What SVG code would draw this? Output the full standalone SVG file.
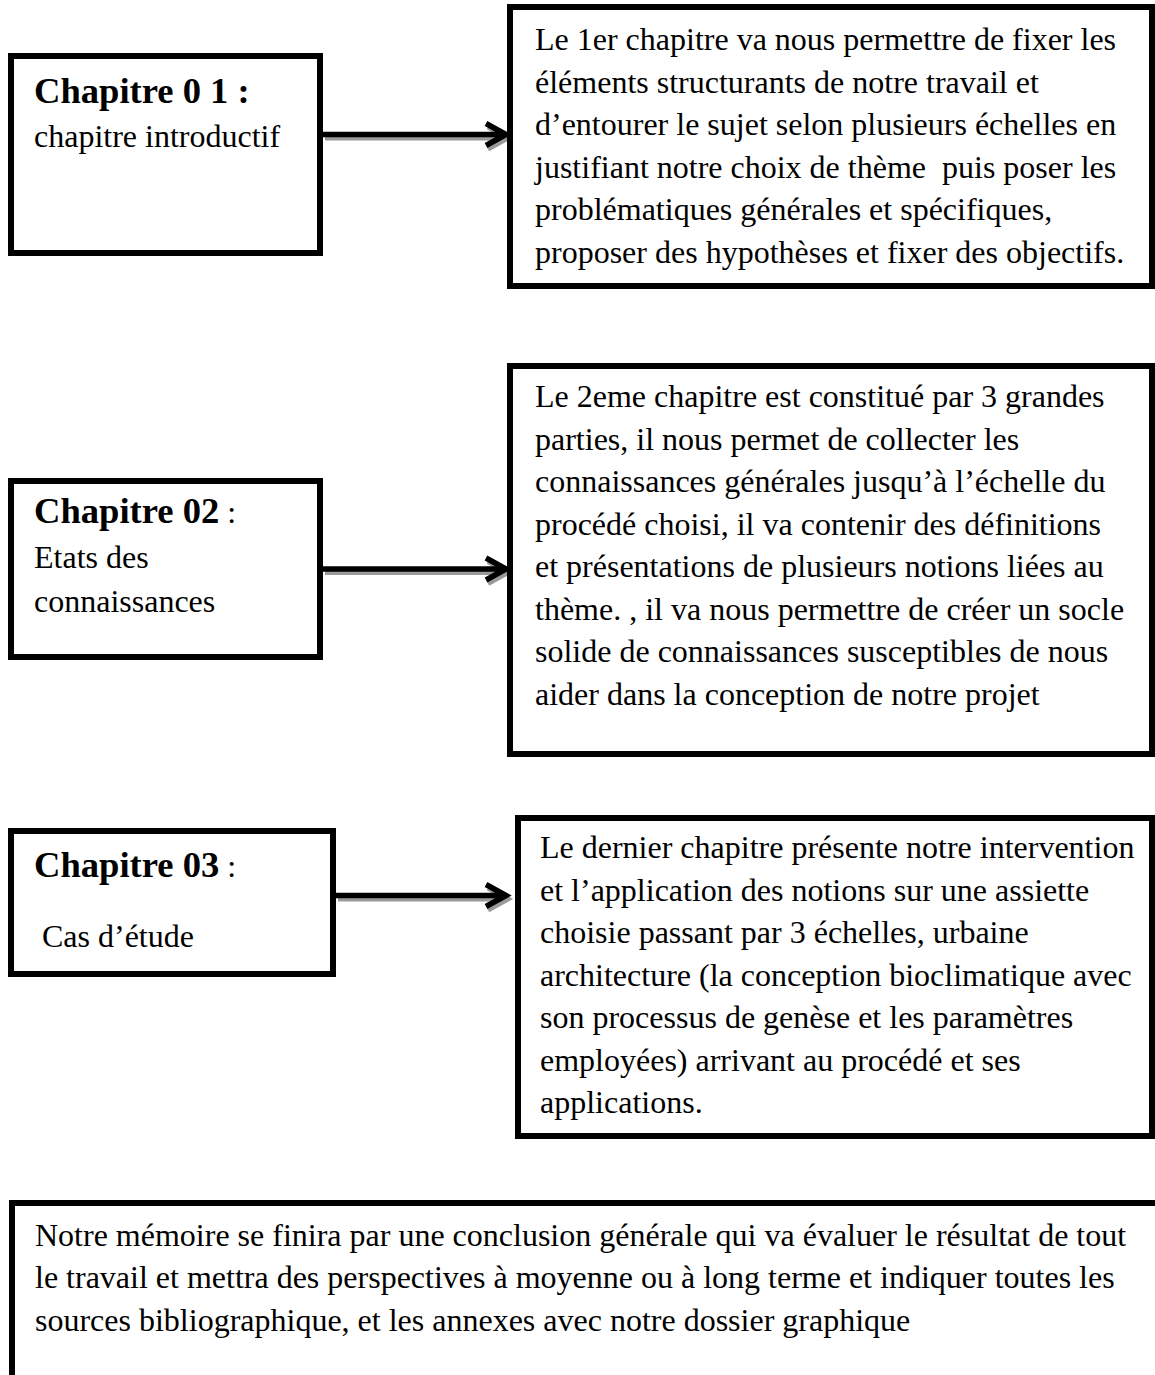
<svg xmlns="http://www.w3.org/2000/svg" width="1155" height="1375" viewBox="0 0 1155 1375">
<style>
.box{fill:#fff;stroke:#000;stroke-width:6}
.t{font-family:"Liberation Serif","Times New Roman",serif;font-size:32px;fill:#000}
.h{font-family:"Liberation Serif","Times New Roman",serif;font-size:36.6px;font-weight:bold;fill:#000}
.ar{fill:none;stroke:#000;stroke-width:5.5;stroke-linejoin:miter}
.sh{fill:none;stroke:#9a9a9a;stroke-width:5;stroke-linejoin:miter}
</style>
<rect width="1155" height="1375" fill="#fff"/>
<g id="connectors">
  <g transform="translate(2,3.5)">
    <path class="sh" d="M323,134.5 H505 M486,123.5 L506,134.5 L486,145.5"/>
    <path class="sh" d="M323,569 H505 M486,558 L506,569 L486,580"/>
    <path class="sh" d="M336,895.5 H505 M486,884.5 L506,895.5 L486,906.5"/>
  </g>
  <path class="ar" d="M323,134.5 H505 M486,123.5 L506,134.5 L486,145.5"/>
  <path class="ar" d="M323,569 H505 M486,558 L506,569 L486,580"/>
  <path class="ar" d="M336,895.5 H505 M486,884.5 L506,895.5 L486,906.5"/>
</g>
<g id="chap1">
  <rect class="box" x="11" y="56" width="309" height="197"/>
  <text class="h" x="34" y="103">Chapitre 0 1 :</text>
  <text class="t" x="34" y="147">chapitre introductif</text>
</g>
<g id="desc1">
  <rect class="box" x="510" y="7" width="642" height="279"/>
  <text class="t" x="535" y="50">Le 1er chapitre va nous permettre de fixer les</text>
  <text class="t" x="535" y="92.5">éléments structurants de notre travail et</text>
  <text class="t" x="535" y="135">d’entourer le sujet selon plusieurs échelles en</text>
  <text class="t" x="535" y="177.5" xml:space="preserve">justifiant notre choix de thème  puis poser les</text>
  <text class="t" x="535" y="220">problématiques générales et spécifiques,</text>
  <text class="t" x="535" y="262.5">proposer des hypothèses et fixer des objectifs.</text>
</g>
<g id="chap2">
  <rect class="box" x="11" y="481" width="309" height="176"/>
  <text x="34" y="523"><tspan class="h">Chapitre 02</tspan><tspan class="t"> :</tspan></text>
  <text class="t" x="34" y="568">Etats des</text>
  <text class="t" x="34" y="612">connaissances</text>
</g>
<g id="desc2">
  <rect class="box" x="510" y="366" width="642" height="388"/>
  <text class="t" x="535" y="407">Le 2eme chapitre est constitué par 3 grandes</text>
  <text class="t" x="535" y="449.5">parties, il nous permet de collecter les</text>
  <text class="t" x="535" y="492">connaissances générales jusqu’à l’échelle du</text>
  <text class="t" x="535" y="534.5">procédé choisi, il va contenir des définitions</text>
  <text class="t" x="535" y="577">et présentations de plusieurs notions liées au</text>
  <text class="t" x="535" y="619.5">thème. , il va nous permettre de créer un socle</text>
  <text class="t" x="535" y="662">solide de connaissances susceptibles de nous</text>
  <text class="t" x="535" y="704.5">aider dans la conception de notre projet</text>
</g>
<g id="chap3">
  <rect class="box" x="11" y="831" width="322" height="143"/>
  <text x="34" y="877"><tspan class="h">Chapitre 03</tspan><tspan class="t"> :</tspan></text>
  <text class="t" x="42" y="947">Cas d’étude</text>
</g>
<g id="desc3">
  <rect class="box" x="518" y="818" width="634" height="318"/>
  <text class="t" x="540" y="858">Le dernier chapitre présente notre intervention</text>
  <text class="t" x="540" y="900.5">et l’application des notions sur une assiette</text>
  <text class="t" x="540" y="943">choisie passant par 3 échelles, urbaine</text>
  <text class="t" x="540" y="985.5">architecture (la conception bioclimatique avec</text>
  <text class="t" x="540" y="1028">son processus de genèse et les paramètres</text>
  <text class="t" x="540" y="1070.5">employées) arrivant au procédé et ses</text>
  <text class="t" x="540" y="1113">applications.</text>
</g>
<g id="conclusion">
  <rect class="box" x="12" y="1203" width="1170" height="220"/>
  <text class="t" x="35" y="1245.5">Notre mémoire se finira par une conclusion générale qui va évaluer le résultat de tout</text>
  <text class="t" x="35" y="1288">le travail et mettra des perspectives à moyenne ou à long terme et indiquer toutes les</text>
  <text class="t" x="35" y="1330.5">sources bibliographique, et les annexes avec notre dossier graphique</text>
</g>
</svg>
